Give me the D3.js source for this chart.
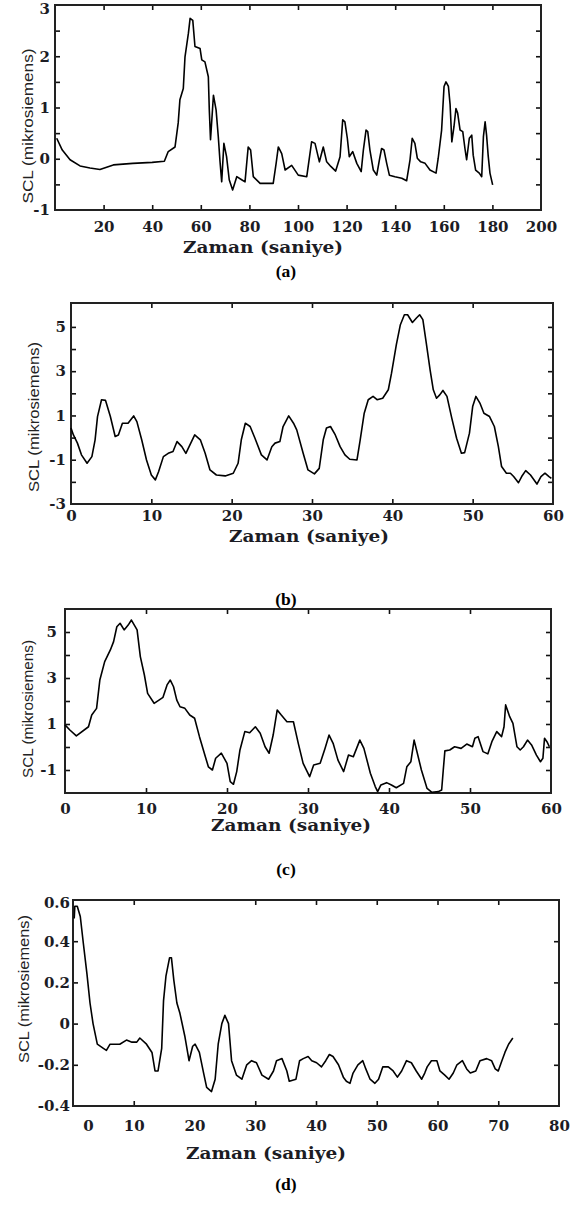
<!DOCTYPE html>
<html><head><meta charset="utf-8">
<script src="https://cdn.jsdelivr.net/npm/d3@7"></script>
<style>body{margin:0;background:#fff}svg{display:block}</style>
</head><body>
<svg id="chart" width="573" height="1207"></svg>
<script>
// ---------- DATA ----------
const aTime = [0.7,3,6.2,10.3,14.4,18.5,24,32,40,45,46.6,49.4,50.7,51.4,52.8,53.5,54.9,55.6,56.7,57.6,59.7,60.4,61.7,63.1,63.5,64,65.2,66.3,67.2,67.9,68.6,69.5,70.6,71.7,73.1,74.8,76.8,78.2,79.5,80.5,81.6,84.4,89.8,91,91.9,93.3,94.7,97.4,100.1,103.6,105.6,107,108.8,110.4,111.8,113.5,115.5,117.3,118.4,119.3,120.3,121.1,122.5,124.2,126,126.9,128,128.7,129.6,131,132.4,133.5,134.4,135.4,136.5,137.6,139.9,142.7,144.7,146.1,147,148.1,149.1,150.5,152.3,154.3,156.8,157.7,159.1,160.1,160.9,161.9,162.6,163.3,164.2,165,165.7,166.7,167.8,168.7,169.4,170.5,171.5,172.1,173.1,174.6,175.6,176.3,177,177.6,178.3,179,180.1];
const aSCL = [0.4,0.17,-0.02,-0.14,-0.18,-0.21,-0.12,-0.09,-0.07,-0.05,0.14,0.23,0.7,1.15,1.37,1.99,2.45,2.74,2.7,2.19,2.15,1.93,1.89,1.6,0.95,0.37,1.24,0.95,0.43,-0.05,-0.45,0.3,0.04,-0.41,-0.61,-0.35,-0.41,-0.45,0.23,0.17,-0.35,-0.48,-0.48,-0.09,0.23,0.1,-0.22,-0.13,-0.32,-0.35,0.33,0.3,-0.06,0.23,-0.06,-0.15,-0.24,0.04,0.76,0.72,0.4,0.04,0.14,-0.09,-0.25,0.17,0.56,0.53,0.17,-0.22,-0.32,-0.02,0.2,0.17,-0.09,-0.32,-0.35,-0.38,-0.43,-0.02,0.4,0.3,0.01,-0.06,-0.09,-0.22,-0.28,0.01,0.56,1.41,1.5,1.41,1.05,0.33,0.63,0.98,0.89,0.56,0.53,0.2,-0.02,0.4,0.46,0.07,-0.22,-0.28,-0.35,0.43,0.72,0.46,0.04,-0.28,-0.51];

const bTime = [0,0.3,0.8,1.3,2,2.6,3,3.3,3.8,4.3,4.9,5.5,5.9,6.4,7.1,7.8,8.2,8.8,9.4,10,10.5,10.9,11.5,12.1,12.7,13.2,13.8,14.3,14.7,15.4,16.1,16.7,17.3,18.1,19.2,20.2,20.8,21.2,21.7,22.3,22.9,23.7,24.4,25,25.4,26,26.4,27.1,27.7,28.1,28.9,29.5,30.3,30.9,31.4,31.8,32.3,32.9,33.5,34.1,34.7,35.6,36,36.5,37,37.6,38.1,38.8,39.5,39.9,40.5,41,41.5,41.9,42.5,43,43.4,43.8,44.2,44.7,45.1,45.5,45.9,46.3,46.8,47.4,48,48.6,49,49.6,50,50.4,50.9,51.4,52.1,52.7,53.2,53.6,54.2,54.7,55.1,55.7,56.1,56.6,57.2,58,58.5,59,59.5,59.8];
const bSCL = [0.43,0.12,-0.25,-0.78,-1.16,-0.86,-0.1,0.95,1.71,1.68,0.95,0.05,0.12,0.65,0.65,0.98,0.72,-0.1,-1.01,-1.69,-1.91,-1.54,-0.86,-0.71,-0.63,-0.18,-0.41,-0.71,-0.41,0.12,-0.1,-0.71,-1.46,-1.69,-1.73,-1.61,-1.16,-0.1,0.65,0.5,-0.03,-0.78,-1.01,-0.41,-0.25,-0.18,0.5,0.98,0.65,0.35,-0.71,-1.46,-1.64,-1.39,-0.1,0.43,0.5,0.12,-0.41,-0.78,-0.98,-1.01,-0.1,1.1,1.71,1.86,1.71,1.78,2.16,2.91,4.2,5.1,5.55,5.55,5.2,5.4,5.55,5.33,4.34,3.06,2.16,1.78,1.93,2.13,1.86,0.88,-0.03,-0.71,-0.68,0.2,1.4,1.86,1.56,1.1,0.95,0.5,-0.41,-1.31,-1.61,-1.61,-1.76,-2.04,-1.76,-1.49,-1.69,-2.1,-1.76,-1.61,-1.76,-1.84];

const cTime = [0,0.6,1.4,2.9,3.3,3.9,4.3,4.9,5.6,6,6.4,6.8,7.3,7.8,8.2,8.9,9.3,9.8,10.2,11,11.6,12.1,12.6,13,13.4,13.8,14.2,14.8,15.4,16,16.6,17.2,17.7,18.2,18.6,19.3,20,20.4,20.8,21.2,21.6,22.2,22.8,23.5,24.1,24.7,25.2,25.7,26.2,26.7,27.4,28.2,28.8,29.4,30.2,30.7,31.5,32.1,32.6,33.1,33.7,34.4,35,35.6,36,36.4,36.9,37.7,38.3,38.6,39,39.7,40.3,40.9,41.8,42.2,42.7,43.1,43.4,44,44.7,45.3,46.1,46.5,46.7,46.9,47.5,48.1,48.9,49.6,50.3,50.6,51,51.6,52.2,52.7,53.3,53.9,54.2,54.4,54.9,55.3,55.8,56.2,56.6,57.1,57.6,58.2,58.7,59,59.2,59.5,59.8];
const cSCL = [0.96,0.74,0.48,0.88,1.39,1.68,2.91,3.71,4.22,4.58,5.23,5.38,5.09,5.3,5.52,5.09,3.93,3.13,2.33,1.9,2.04,2.16,2.7,2.91,2.62,2.04,1.75,1.68,1.39,1.25,0.45,-0.27,-0.86,-1,-0.49,-0.27,-0.71,-1.51,-1.62,-1.07,-0.13,0.67,0.62,0.88,0.6,0.01,-0.27,0.52,1.61,1.39,1.1,1.1,0.16,-0.71,-1.29,-0.78,-0.71,-0.06,0.52,0.16,-0.57,-1.07,-0.35,-0.42,-0.06,0.3,-0.06,-1.14,-1.72,-1.94,-1.65,-1.55,-1.65,-1.77,-1.58,-0.86,-0.64,0.3,-0.13,-1,-1.8,-1.97,-1.94,-1.87,-1,-0.17,-0.13,0.01,-0.06,0.13,0.01,0.38,0.45,-0.2,-0.3,0.23,0.67,0.45,0.88,1.83,1.32,1.03,0.01,-0.13,0.01,0.3,0.09,-0.35,-0.64,-0.49,0.38,0.23,0.01];

const dTime = [0.2,0.3,0.7,1.2,1.7,2.3,2.8,3.3,4,5,5.5,6.1,6.9,7.7,8.8,9.7,10.5,11,12.1,13,13.5,14,14.6,14.9,15.3,15.9,16.2,16.6,17.1,17.6,18.4,19.1,19.7,20.1,20.8,21.5,22,22.8,23.4,23.9,24.5,25,25.6,26.1,26.9,27.8,28.6,29.4,30.2,31.1,32.2,33,33.5,34.4,35.2,35.6,36.7,37.3,37.9,38.7,39.3,40.1,40.9,41.6,42.2,42.8,43.7,44.5,45,45.6,46.1,46.9,47.7,48.2,48.9,49.7,50.3,51,51.9,52.7,53.4,54.1,54.9,55.7,56.5,57.4,57.9,58.3,59,59.9,60.4,61.2,61.9,62.6,63.2,64.1,64.8,65.4,66.3,67,68.1,68.9,69.5,70,70.6,71.1,71.7,72.4];
const dSCL = [0.51,0.57,0.57,0.52,0.39,0.24,0.1,0,-0.1,-0.12,-0.13,-0.1,-0.1,-0.1,-0.08,-0.09,-0.09,-0.07,-0.1,-0.14,-0.23,-0.23,-0.12,0.11,0.23,0.32,0.32,0.21,0.1,0.05,-0.06,-0.18,-0.11,-0.1,-0.14,-0.24,-0.31,-0.33,-0.27,-0.1,0,0.04,0,-0.18,-0.25,-0.27,-0.2,-0.18,-0.19,-0.25,-0.27,-0.23,-0.18,-0.17,-0.23,-0.28,-0.27,-0.18,-0.17,-0.16,-0.18,-0.19,-0.21,-0.18,-0.15,-0.16,-0.2,-0.26,-0.28,-0.29,-0.24,-0.2,-0.18,-0.22,-0.27,-0.29,-0.27,-0.21,-0.21,-0.23,-0.26,-0.23,-0.18,-0.19,-0.23,-0.27,-0.24,-0.21,-0.18,-0.18,-0.23,-0.25,-0.27,-0.24,-0.2,-0.18,-0.22,-0.24,-0.23,-0.18,-0.17,-0.18,-0.22,-0.23,-0.18,-0.14,-0.1,-0.07];

// axis ranges, ticks and tick labels
const aXDomain = [0, 200], aYDomain = [-1, 3];
const aXTicks = [20,40,60,80,100,120,140,160,180], aXLabels = [20,40,60,80,100,120,140,160,180,200];
const aYTicks = [-0.5,0,0.5,1,1.5,2,2.5], aYLabels = [-1,0,1,2,3];

const bXDomain = [0, 60], bYDomain = [-3, 6.08];
const bXTicks = [10,20,30,40,50], bXLabels = [0,10,20,30,40,50,60];
const bYTicks = [-2,-1,0,1,2,3,4,5], bYLabels = [-3,-1,1,3,5];

const cXDomain = [0, 60], cYDomain = [-2, 6];
const cXTicks = [10,20,30,40,50], cXLabels = [0,10,20,30,40,50,60];
const cYTicks = [-1,0,1,2,3,4,5], cYLabels = [-1,1,3,5];

const dXDomain = [0, 80], dYDomain = [-0.4, 0.6];
const dXTicks = [10,30,40,50,60,70], dXLabels = [0,10,20,30,40,50,60,70,80];
const dYTicks = [-0.2,0,0.2,0.4], dYLabels = [-0.4,-0.2,0,0.2,0.4,0.6];

const captions = ["(a)", "(b)", "(c)", "(d)"];
const xTitle = "Zaman (saniye)";
const yTitle = "SCL (mikrosiemens)";

// ---------- LAYOUT ----------
const panels = [
  {time:aTime, scl:aSCL, xd:aXDomain, yd:aYDomain, xt:aXTicks, xl:aXLabels, yt:aYTicks, yl:aYLabels, cap:captions[0],
   box:{l:55,t:5,r:541,b:210}, xPad:11, yPad:5, xTitleX:263, xTitleY:253, yTitleX:27, yTitleY:126, yTitleLen:155, yTitleSize:15, capY:277, topShift:4},
  {time:bTime, scl:bSCL, xd:bXDomain, yd:bYDomain, xt:bXTicks, xl:bXLabels, yt:bYTicks, yl:bYLabels, cap:captions[1],
   box:{l:71,t:303,r:553,b:504}, xPad:6, yPad:5, xTitleX:309, xTitleY:542, yTitleX:33, yTitleY:417, yTitleLen:150, yTitleSize:15, capY:605},
  {time:cTime, scl:cSCL, xd:cXDomain, yd:cYDomain, xt:cXTicks, xl:cXLabels, yt:cYTicks, yl:cYLabels, cap:captions[2],
   box:{l:65,t:609,r:551,b:793}, xPad:10, yPad:8, xTitleX:291, xTitleY:831, yTitleX:28, yTitleY:709, yTitleLen:138, yTitleSize:14, capY:875},
  {time:dTime, scl:dSCL, xd:dXDomain, yd:dYDomain, xt:dXTicks, xl:dXLabels, yt:dYTicks, yl:dYLabels, cap:captions[3],
   box:{l:73,t:900,r:559,b:1106}, xPad:14, yPad:3, xTitleX:266, xTitleY:1159, yTitleX:23, yTitleY:989, yTitleLen:148, yTitleSize:15, capY:1190, zeroShift:15, topShift:3}
];

const svg = d3.select("#chart");
const tickFont = "'DejaVu Serif', serif";
const ink = "#1c1c24";

panels.forEach(p => {
  const {l,t,r,b} = p.box;
  const x = d3.scaleLinear().domain(p.xd).range([l, r]);
  const y = d3.scaleLinear().domain(p.yd).range([b, t]);
  const g = svg.append("g");

  // inward ticks on all four sides
  const tk = 5;
  g.append("g").attr("transform", `translate(0,${b})`)
    .call(d3.axisBottom(x).tickValues(p.xt).tickSize(-tk).tickFormat(""));
  g.append("g").attr("transform", `translate(0,${t})`)
    .call(d3.axisTop(x).tickValues(p.xt).tickSize(-tk).tickFormat(""));
  g.append("g").attr("transform", `translate(${l},0)`)
    .call(d3.axisLeft(y).tickValues(p.yt).tickSize(-tk).tickFormat(""));
  g.append("g").attr("transform", `translate(${r},0)`)
    .call(d3.axisRight(y).tickValues(p.yt).tickSize(-tk).tickFormat(""));
  g.selectAll(".domain").remove();
  g.selectAll(".tick line").attr("stroke", "#111").attr("stroke-width", 1.6);

  // tick labels
  const xl = g.append("g").attr("transform", `translate(0,${b})`)
    .call(d3.axisBottom(x).tickValues(p.xl).tickSize(0).tickPadding(p.xPad).tickFormat(d3.format("")));
  const yl = g.append("g").attr("transform", `translate(${l},0)`)
    .call(d3.axisLeft(y).tickValues(p.yl).tickSize(0).tickPadding(p.yPad).tickFormat(d => String(d)));
  [xl, yl].forEach(a => {
    a.select(".domain").remove();
    a.selectAll("text").attr("font-family", tickFont).attr("font-weight", "bold")
      .attr("font-size", 15).attr("fill", ink);
  });
  if (p.zeroShift) {
    xl.selectAll(".tick").filter(d => d === 0).select("text").attr("dx", p.zeroShift);
  }
  if (p.topShift) {
    const top = p.yl[p.yl.length - 1];
    yl.selectAll(".tick").filter(d => d === top).select("text").attr("y", p.topShift);
  }

  // frame
  g.append("rect").attr("x", l).attr("y", t).attr("width", r - l).attr("height", b - t)
    .attr("fill", "none").attr("stroke", "#222").attr("stroke-width", 2);

  // line
  const pts = p.time.map((tv, i) => [tv, p.scl[i]]);
  g.append("path").datum(pts)
    .attr("fill", "none").attr("stroke", "#000").attr("stroke-width", 1.6).attr("stroke-linejoin", "round")
    .attr("d", d3.line().x(d => x(d[0])).y(d => y(d[1])));

  // titles
  g.append("text").attr("x", p.xTitleX).attr("y", p.xTitleY).attr("text-anchor", "middle")
    .attr("font-family", tickFont).attr("font-weight", "bold").attr("font-size", 16)
    .attr("textLength", 160).attr("lengthAdjust", "spacingAndGlyphs")
    .attr("fill", ink).text(xTitle);
  g.append("text").attr("transform", `translate(${p.yTitleX},${p.yTitleY}) rotate(-90)`)
    .attr("text-anchor", "middle").attr("dominant-baseline", "central")
    .attr("font-family", "'Liberation Sans', Arial, sans-serif").attr("font-size", p.yTitleSize)
    .attr("textLength", p.yTitleLen).attr("lengthAdjust", "spacingAndGlyphs")
    .attr("fill", "#222").text(yTitle);
  g.append("text").attr("x", 286).attr("y", p.capY).attr("text-anchor", "middle")
    .attr("font-family", "'Liberation Serif', 'Times New Roman', serif").attr("font-weight", "bold")
    .attr("font-size", 17.5).attr("fill", "#000").text(p.cap);
});
</script>
</body></html>
